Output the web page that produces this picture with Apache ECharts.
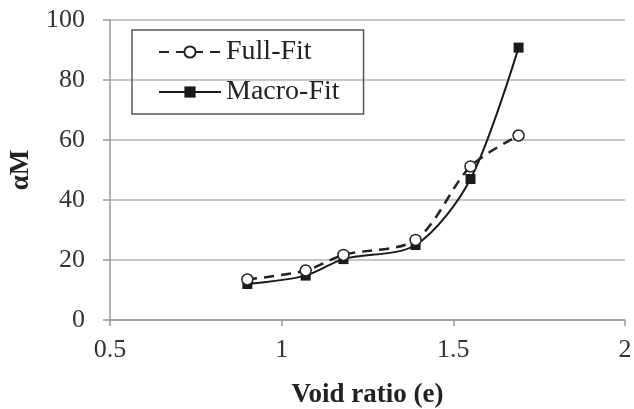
<!DOCTYPE html>
<html><head><meta charset="utf-8">
<script src="https://cdn.jsdelivr.net/npm/echarts@6/dist/echarts.min.js"></script>
<style>html,body{margin:0;padding:0;background:#fff}#c{width:634px;height:409px}</style>
</head><body><div id="c"></div>
<script>
const voidRatio = [0.90, 1.07, 1.18, 1.39, 1.55, 1.69];
const fullFit = [13.5, 16.5, 21.7, 26.7, 51.2, 61.5];
const macroFit = [12.0, 14.8, 20.3, 25.0, 47.0, 90.8];
const xTicks = [0.5, 1, 1.5, 2];
const yTicks = [0, 20, 40, 60, 80, 100];

const pairs = (xs, ys) => xs.map((x, i) => [x, ys[i]]);
const font = '"Liberation Serif", "DejaVu Serif", serif';
const chart = echarts.init(document.getElementById('c'));
chart.setOption({
  animation: false,
  backgroundColor: '#fff',
  grid: { left: 110, right: 9, top: 20, bottom: 89, containLabel: false, outerBoundsMode: 'none' },
  legend: {
    orient: 'vertical', left: 132, top: 30,
    padding: [8, 24, 8, 26], itemGap: 12,
    itemWidth: 62, itemHeight: 14,
    borderColor: '#555', borderWidth: 1.5, borderRadius: 0,
    textStyle: { fontFamily: font, fontSize: 28, color: '#222', lineHeight: 28 },
    data: ['Full-Fit', 'Macro-Fit']
  },
  xAxis: {
    type: 'value', min: 0.5, max: 2, interval: 0.5,
    name: 'Void ratio (e)', nameLocation: 'middle', nameGap: 62,
    nameTextStyle: { fontFamily: font, fontSize: 27, fontWeight: 'bold', color: '#222' },
    axisLine: { show: true, lineStyle: { color: '#999', width: 1.5 } },
    axisTick: { show: true, length: 6, lineStyle: { color: '#999', width: 1.5 } },
    axisLabel: { fontFamily: font, fontSize: 26, color: '#333', margin: 17,
      formatter: v => xTicks.includes(v) ? String(v) : '' },
    splitLine: { show: false }
  },
  yAxis: {
    type: 'value', min: 0, max: 100, interval: 20,
    name: 'αM', nameLocation: 'middle', nameGap: 75,
    nameTextStyle: { fontFamily: font, fontSize: 27, fontWeight: 'bold', color: '#222' },
    axisLine: { show: true, lineStyle: { color: '#999', width: 1.5 } },
    axisTick: { show: true, length: 7, lineStyle: { color: '#999', width: 1.5 } },
    axisLabel: { fontFamily: font, fontSize: 26, color: '#333', margin: 25,
      formatter: v => yTicks.includes(v) ? String(v) : '' },
    splitLine: { show: true, lineStyle: { color: '#b5b5b5', width: 1.5 } }
  },
  series: [
    {
      name: 'Full-Fit', type: 'line', smooth: 0.3,
      data: pairs(voidRatio, fullFit),
      symbol: 'circle', symbolSize: 11,
      itemStyle: { color: '#fff', borderColor: '#222', borderWidth: 1.5 },
      lineStyle: { color: '#222', width: 2.5, type: [10, 7] },
      z: 3
    },
    {
      name: 'Macro-Fit', type: 'line', smooth: 0.3,
      data: pairs(voidRatio, macroFit),
      symbol: 'rect', symbolSize: 10,
      itemStyle: { color: '#1a1a1a', borderColor: '#1a1a1a', borderWidth: 0 },
      lineStyle: { color: '#1a1a1a', width: 2 },
      z: 2
    }
  ]
});
</script></body></html>
